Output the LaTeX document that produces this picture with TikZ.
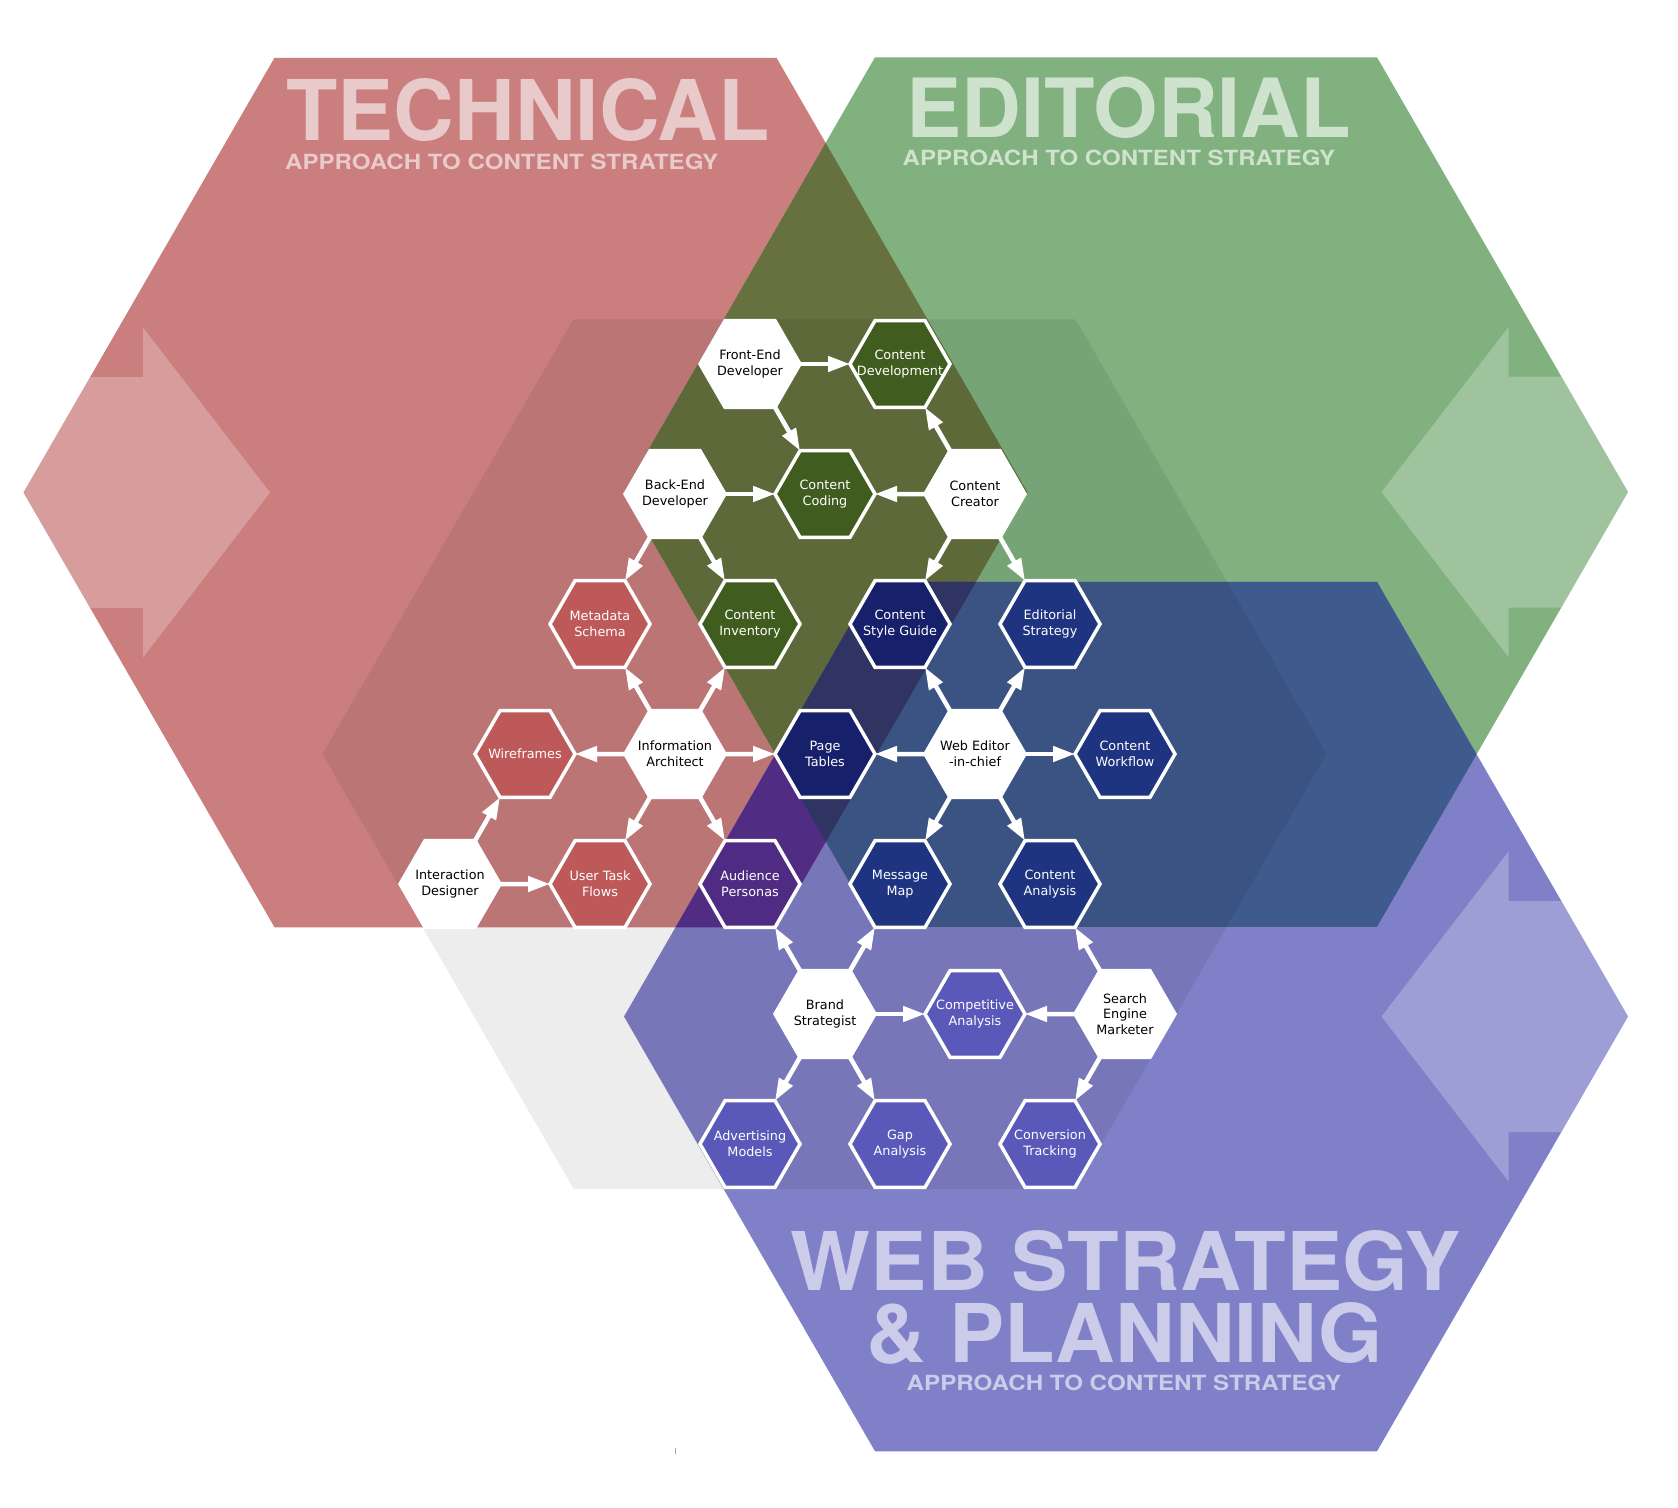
\documentclass[tikz,border=0pt]{standalone}
\usepackage{fontspec}
\usepackage{graphicx}
\usepackage{tikz}
\usetikzlibrary{shapes.geometric,arrows.meta}
\setmainfont{DejaVu Sans}
\newfontfamily\titlefont{TeX Gyre Heros}

% big hexagon fills and their overlaps
\definecolor{techfill}{HTML}{CB7E7E}
\definecolor{editfill}{HTML}{80B17F}
\definecolor{webfill}{HTML}{7F80C8}
\definecolor{techedit}{HTML}{66713F}
\definecolor{editweb}{HTML}{3F5A8C}
\definecolor{techweb}{HTML}{58308E}
\definecolor{allthree}{HTML}{33396A}
\definecolor{techtext}{HTML}{E9CACA}
\definecolor{edittext}{HTML}{CEE2CE}
\definecolor{webtext}{HTML}{CBCBEA}
% small hexagons
\definecolor{rednode}{HTML}{BD5959}
\definecolor{greennode}{HTML}{405D1F}
\definecolor{navydark}{HTML}{17206A}
\definecolor{navynode}{HTML}{1F3481}
\definecolor{purplenode}{HTML}{502B83}
\definecolor{violetnode}{HTML}{5A59BA}

\newcommand{\bighex}[1]{(#1) +(0:502) -- +(60:502) -- +(120:502) -- +(180:502) -- +(240:502) -- +(300:502) -- cycle}

\tikzset{
  hexbox/.style={regular polygon, regular polygon sides=6, minimum size=100pt,
    inner sep=-16pt, outer sep=0pt, draw=white, line width=3.5pt, align=center,
    font=\fontsize{12.8}{15.6}\selectfont},
  role/.style={hexbox, fill=white, text=black},
  task/.style={hexbox, fill=#1, text=white},
  flow/.style={white, line width=4.5pt, -{Triangle[length=22pt, width=15pt]}},
  title/.style={inner sep=0pt, anchor=north west, font=\titlefont\bfseries},
  sidearrow/.style={white, opacity=0.24}
}

\begin{document}
\begin{tikzpicture}[x=1pt, y=-1pt]

\useasboundingbox (0,0) rectangle (1678,1507);

\coordinate (tech) at (525.5,492.5);
\coordinate (edit) at (1126,492);
\coordinate (web) at (1126,1016.5);
\coordinate (mid) at (824.5,754);

% draw the three approaches
\fill[techfill] \bighex{tech};
\fill[editfill] \bighex{edit};
\begin{scope}
  \clip \bighex{tech};
  \fill[techedit] \bighex{edit};
\end{scope}
\fill[webfill] \bighex{web};
\begin{scope}
  \clip \bighex{edit};
  \fill[editweb] \bighex{web};
\end{scope}
\begin{scope}
  \clip \bighex{tech};
  \fill[techweb] \bighex{web};
  \clip \bighex{edit};
  \fill[allthree] \bighex{web};
\end{scope}

% light arrows at the outer corners
\begin{scope}
  \clip \bighex{tech};
  \fill[sidearrow, shift={(23.5,492.5)}] (-20,-115.5) -- (119.5,-115.5) -- (119.5,-165) -- (246.5,0) -- (119.5,165) -- (119.5,115.5) -- (-20,115.5) -- cycle;
\end{scope}
\begin{scope}
  \clip \bighex{edit};
  \fill[sidearrow, shift={(1628,492)}, xscale=-1] (-20,-115.5) -- (119.5,-115.5) -- (119.5,-165) -- (246.5,0) -- (119.5,165) -- (119.5,115.5) -- (-20,115.5) -- cycle;
\end{scope}
\begin{scope}
  \clip \bighex{web};
  \fill[sidearrow, shift={(1628,1016.5)}, xscale=-1] (-20,-115.5) -- (119.5,-115.5) -- (119.5,-165) -- (246.5,0) -- (119.5,165) -- (119.5,115.5) -- (-20,115.5) -- cycle;
\end{scope}

% shaded middle hexagon
\fill[black, opacity=0.07] \bighex{mid};

% titles
\node[title, text=techtext] (techtitle) at (286,78) {\resizebox{483pt}{62pt}{TECHNICAL}};
\node[title, text=techtext] (techsub) at (285,153.5) {\resizebox{433pt}{15.5pt}{APPROACH TO CONTENT STRATEGY}};
\node[title, text=edittext] (edittitle) at (906.5,76.5) {\resizebox{444.5pt}{60.5pt}{EDITORIAL}};
\node[title, text=edittext] (editsub) at (902.5,150) {\resizebox{432.5pt}{15.5pt}{APPROACH TO CONTENT STRATEGY}};
\node[title, text=webtext] (webtitle) at (790.5,1230) {\resizebox{669.5pt}{60pt}{WEB STRATEGY}};
\node[title, text=webtext] (webtitleb) at (866.5,1302) {\resizebox{515.5pt}{60pt}{\& PLANNING}};
\node[title, text=webtext] (websub) at (906.5,1374.5) {\resizebox{434.5pt}{15.5pt}{APPROACH TO CONTENT STRATEGY}};

% roles and tasks
\node[role] (fed) at (750,364) {Front-End\\Developer};
\node[task=greennode] (cdev) at (900,364) {Content\\Development};
\node[role] (bed) at (675,494) {Back-End\\Developer};
\node[task=greennode] (ccod) at (825,494) {Content\\Coding};
\node[role] (ccre) at (975,494) {Content\\Creator};
\node[task=rednode] (meta) at (600,624) {Metadata\\Schema};
\node[task=greennode] (cinv) at (750,624) {Content\\Inventory};
\node[task=navydark] (csty) at (900,624) {Content\\Style Guide};
\node[task=navynode] (edst) at (1050,624) {Editorial\\Strategy};
\node[task=rednode] (wire) at (525,754) {Wireframes};
\node[role] (ia) at (675,754) {Information\\Architect};
\node[task=navydark] (ptab) at (825,754) {Page\\Tables};
\node[role] (wed) at (975,754) {Web Editor\\-in-chief};
\node[task=navynode] (cwf) at (1125,754) {Content\\Workflow};
\node[role] (ixd) at (450,884) {Interaction\\Designer};
\node[task=rednode] (utf) at (600,884) {User Task\\Flows};
\node[task=purplenode] (aper) at (750,884) {Audience\\Personas};
\node[task=navynode] (mmap) at (900,884) {Message\\Map};
\node[task=navynode] (cana) at (1050,884) {Content\\Analysis};
\node[role] (brand) at (825,1014) {Brand\\Strategist};
\node[task=violetnode] (comp) at (975,1014) {Competitive\\Analysis};
\node[role] (sem) at (1125,1014) {Search\\Engine\\Marketer};
\node[task=violetnode] (adv) at (750,1144) {Advertising\\Models};
\node[task=violetnode] (gap) at (900,1144) {Gap\\Analysis};
\node[task=violetnode] (conv) at (1050,1144) {Conversion\\Tracking};

% front-end and back-end developers
\draw[flow] (fed.0) -- (cdev.180);
\draw[flow] (fed.300) -- (ccod.120);
\draw[flow] (bed.0) -- (ccod.180);
\draw[flow] (bed.240) -- (meta.60);
\draw[flow] (bed.300) -- (cinv.120);

% content creator
\draw[flow] (ccre.180) -- (ccod.0);
\draw[flow] (ccre.120) -- (cdev.300);
\draw[flow] (ccre.240) -- (csty.60);
\draw[flow] (ccre.300) -- (edst.120);

% information architect and interaction designer
\draw[flow] (ia.120) -- (meta.300);
\draw[flow] (ia.60) -- (cinv.240);
\draw[flow] (ia.180) -- (wire.0);
\draw[flow] (ia.0) -- (ptab.180);
\draw[flow] (ia.240) -- (utf.60);
\draw[flow] (ia.300) -- (aper.120);
\draw[flow] (ixd.60) -- (wire.240);
\draw[flow] (ixd.0) -- (utf.180);

% web editor
\draw[flow] (wed.120) -- (csty.300);
\draw[flow] (wed.60) -- (edst.240);
\draw[flow] (wed.180) -- (ptab.0);
\draw[flow] (wed.0) -- (cwf.180);
\draw[flow] (wed.240) -- (mmap.60);
\draw[flow] (wed.300) -- (cana.120);

% brand strategist and search engine marketer
\draw[flow] (brand.120) -- (aper.300);
\draw[flow] (brand.60) -- (mmap.240);
\draw[flow] (brand.0) -- (comp.180);
\draw[flow] (brand.240) -- (adv.60);
\draw[flow] (brand.300) -- (gap.120);
\draw[flow] (sem.180) -- (comp.0);
\draw[flow] (sem.120) -- (cana.300);
\draw[flow] (sem.240) -- (conv.60);

% small mark below
\draw[gray!70, line width=0.8pt] (675,1448) -- (675,1454);

\end{tikzpicture}
\end{document}
